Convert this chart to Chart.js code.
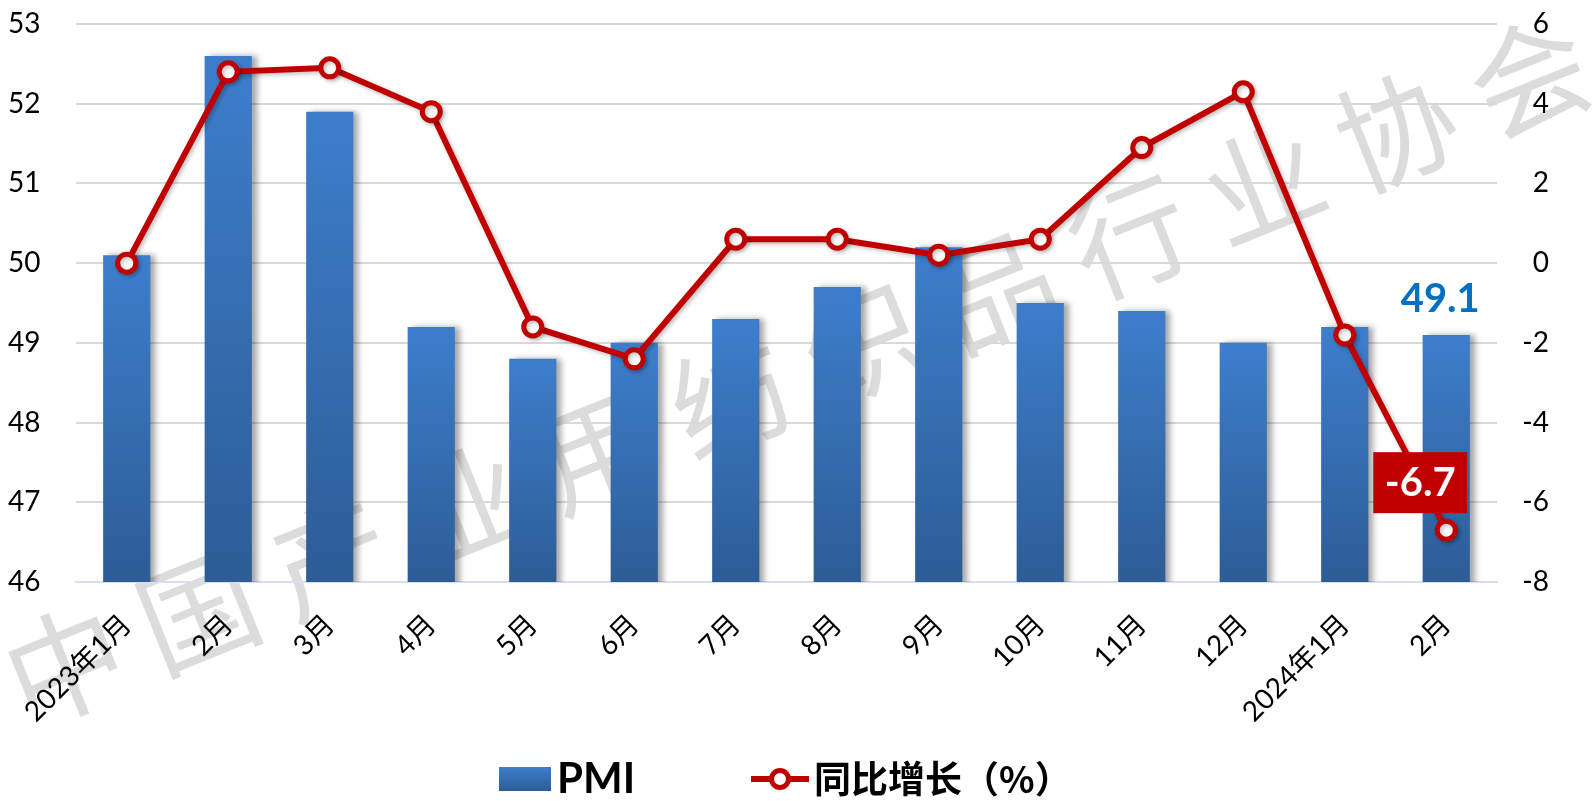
<!DOCTYPE html>
<html>
<head>
<meta charset="utf-8">
<script src="https://cdn.jsdelivr.net/npm/chart.js@4.4.0/dist/chart.umd.min.js"></script>
<style>
  html, body { margin: 0; padding: 0; background: #fff; }
</style>
</head>
<body>
<canvas id="pmiChart" width="1595" height="801"></canvas>
<script>
// 数据
const months = ['2023年1月', '2月', '3月', '4月', '5月', '6月', '7月', '8月', '9月', '10月', '11月', '12月', '2024年1月', '2月'];
const pmiValues = [50.1, 52.6, 51.9, 49.2, 48.8, 49.0, 49.3, 49.7, 50.2, 49.5, 49.4, 49.0, 49.2, 49.1];
const yoyValues = [0.0, 4.8, 4.9, 3.8, -1.6, -2.4, 0.6, 0.6, 0.2, 0.6, 2.9, 4.3, -1.8, -6.7];
const leftTicks = [46, 47, 48, 49, 50, 51, 52, 53];
const rightTicks = [-8, -6, -4, -2, 0, 2, 4, 6];
const seriesNames = ['PMI', '同比增长（%）'];
const watermark = '中国产业用纺织品行业协会';

const FONT = 'Lato, "Noto Sans CJK SC", sans-serif';
const RED = '#C00000';

function barGradient(ctx, top, bottom) {
    const g = ctx.createLinearGradient(0, top, 0, bottom);
    g.addColorStop(0, '#3D7ECC');
    g.addColorStop(1, '#2D5C96');
    return g;
}

// 水印
const watermarkPlugin = {
    id: 'watermark',
    beforeDraw(chart) {
        const ctx = chart.ctx;
        ctx.save();
        ctx.font = '118px "Noto Sans CJK SC"';
        ctx.fillStyle = '#DCDCDC';
        ctx.textAlign = 'center';
        ctx.textBaseline = 'middle';
        const chars = Array.from(watermark);
        chars.forEach((c, i) => {
            ctx.save();
            ctx.translate(65 + 133.1 * i, 665 - 53.5 * i);
            ctx.rotate(-21.9 * Math.PI / 180);
            ctx.fillText(c, 0, 0);
            ctx.restore();
        });
        ctx.restore();
    }
};

// 阴影
const shadowPlugin = {
    id: 'shadow',
    beforeDatasetDraw(chart, args) {
        const ctx = chart.ctx;
        ctx.save();
        if (args.index === 0) {
            ctx.shadowColor = 'rgba(0,0,0,0.35)';
            ctx.shadowBlur = 6;
            ctx.shadowOffsetX = 5;
        } else {
            ctx.shadowColor = 'rgba(0,0,0,0.25)';
            ctx.shadowBlur = 4;
            ctx.shadowOffsetX = 2;
            ctx.shadowOffsetY = 2;
        }
    },
    afterDatasetDraw(chart) {
        chart.ctx.restore();
    }
};

// 最后一个点的数据标签
const lastLabelPlugin = {
    id: 'lastLabels',
    afterDatasetsDraw(chart) {
        const ctx = chart.ctx;
        const last = months.length - 1;
        const bar = chart.getDatasetMeta(0).data[last];
        const pt = chart.getDatasetMeta(1).data[last];
        ctx.save();
        ctx.textAlign = 'center';
        ctx.textBaseline = 'middle';
        ctx.font = 'bold 40px ' + FONT;
        ctx.fillStyle = '#0070C0';
        ctx.fillText(pmiValues[last].toFixed(1), bar.x - 6, bar.y - 36);

        const bx = pt.x - 26, by = pt.y - 48;
        ctx.fillStyle = RED;
        ctx.fillRect(bx - 47, by - 30, 94, 61);
        ctx.fillStyle = '#fff';
        ctx.fillText(yoyValues[last].toFixed(1), bx, by + 1);
        ctx.restore();
    }
};

// 图例
const legendPlugin = {
    id: 'customLegend',
    afterDraw(chart) {
        const ctx = chart.ctx;
        const cy = 779;
        ctx.save();
        ctx.fillStyle = barGradient(ctx, 767, 791);
        ctx.fillRect(499, 767, 52, 24);
        ctx.fillStyle = '#000';
        ctx.textBaseline = 'middle';
        ctx.font = 'bold 42px ' + FONT;
        ctx.fillText(seriesNames[0], 557, cy);

        ctx.strokeStyle = RED;
        ctx.lineWidth = 6;
        ctx.beginPath();
        ctx.moveTo(751, cy);
        ctx.lineTo(809, cy);
        ctx.stroke();
        ctx.beginPath();
        ctx.arc(780, cy, 8.5, 0, Math.PI * 2);
        ctx.fillStyle = '#fff';
        ctx.fill();
        ctx.lineWidth = 5;
        ctx.stroke();

        ctx.fillStyle = '#000';
        ctx.font = 'bold 37px "Noto Sans CJK SC", ' + FONT;
        ctx.fillText(seriesNames[1], 814, cy);
        ctx.restore();
    }
};

const ctx = document.getElementById('pmiChart').getContext('2d');
new Chart(ctx, {
    data: {
        labels: months,
        datasets: [
            {
                type: 'bar',
                label: seriesNames[0],
                data: pmiValues,
                yAxisID: 'y',
                order: 2,
                categoryPercentage: 1,
                barPercentage: 0.465,
                backgroundColor: c => {
                    const chart = c.chart;
                    if (!chart.chartArea || c.type !== 'data') return '#3670B5';
                    const top = chart.scales.y.getPixelForValue(c.raw);
                    return barGradient(chart.ctx, top, chart.chartArea.bottom);
                }
            },
            {
                type: 'line',
                label: seriesNames[1],
                data: yoyValues,
                yAxisID: 'y1',
                order: 1,
                borderColor: RED,
                borderWidth: 6,
                pointRadius: 9,
                pointBorderWidth: 5,
                pointBackgroundColor: '#fff',
                pointBorderColor: RED,
                tension: 0
            }
        ]
    },
    options: {
        responsive: false,
        animation: false,
        layout: { padding: { top: 24, left: 8, right: 46, bottom: 0 } },
        plugins: {
            legend: { display: false },
            tooltip: { enabled: false }
        },
        scales: {
            x: {
                grid: { display: false, drawTicks: false },
                border: { color: '#D3E0F0', width: 2 },
                ticks: {
                    color: '#000',
                    font: { size: 28, family: FONT },
                    minRotation: 45,
                    maxRotation: 45,
                    padding: 26
                },
                afterFit: s => { s.height = 219; }
            },
            y: {
                position: 'left',
                min: 46,
                max: 53,
                afterBuildTicks: s => { s.ticks = leftTicks.map(v => ({ value: v })); },
                grid: {
                    color: c => (c.tick && c.tick.value === 46) ? 'rgba(0,0,0,0)' : '#D9D9D9',
                    lineWidth: 2,
                    drawTicks: false
                },
                border: { display: false },
                ticks: {
                    color: '#000',
                    font: { size: 28, family: FONT },
                    crossAlign: 'far',
                    padding: 0
                },
                afterFit: s => { s.width = 68; }
            },
            y1: {
                position: 'right',
                min: -8,
                max: 6,
                afterBuildTicks: s => { s.ticks = rightTicks.map(v => ({ value: v })); },
                grid: { display: false, drawTicks: false },
                border: { display: false },
                ticks: {
                    color: '#000',
                    font: { size: 28, family: FONT },
                    crossAlign: 'far',
                    padding: 0
                },
                afterFit: s => { s.width = 52; }
            }
        }
    },
    plugins: [watermarkPlugin, shadowPlugin, lastLabelPlugin, legendPlugin]
});
</script>
</body>
</html>
